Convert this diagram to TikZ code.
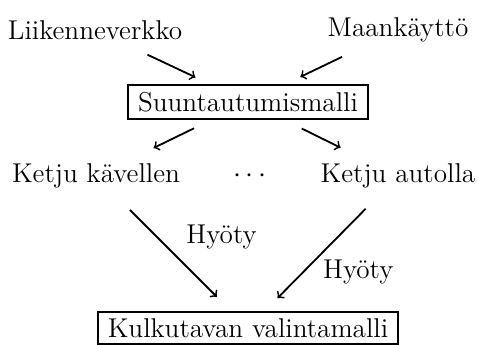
\documentclass[tikz,border=0pt]{standalone}
\begin{document}
\begin{tikzpicture}[
        x=0.5pt, y=-0.5pt,
        every node/.style={font=\fontsize{13.6}{16}\selectfont},
        malli/.style={draw, line width=0.9pt, minimum height=17pt},
        nuoli/.style={->, line width=0.9pt}
    ]
    \useasboundingbox (0,0) rectangle (478,344);
    \node (liikenne) at (95,30) {Liikenneverkko};
    \node (maankaytto) at (398,30) {Maankäyttö};
    \node[malli, minimum width=120pt] (suunta) at (248,102) {Suuntautumismalli};
    \node (kavellen) at (96,176) {Ketju kävellen};
    \node (pisteet) at (250,176) {$\cdots$};
    \node (autolla) at (398,176) {Ketju autolla};
    \node[malli, minimum width=150pt, minimum height=15.5pt] (kulkutapa) at (248,328) {Kulkutavan valintamalli};

    \draw[nuoli, shorten <=29pt, shorten >=29pt] (liikenne.center) -- (suunta.center);
    \draw[nuoli, shorten <=31pt, shorten >=29pt] (maankaytto.center) -- (suunta.center);
    \draw[nuoli, shorten <=30pt, shorten >=32pt] (suunta.center) -- (kavellen.center);
    \draw[nuoli, shorten <=30pt, shorten >=32pt] (suunta.center) -- (autolla.center);
    \draw[nuoli, shorten <=24pt, shorten >=22pt] (kavellen.center) -- (kulkutapa.center)
        node[pos=0.4, anchor=west, xshift=11pt] {Hyöty};
    \draw[nuoli, shorten <=23pt, shorten >=21pt] (autolla.center) -- (kulkutapa.center)
        node[pos=0.63, anchor=west, xshift=6pt] {Hyöty};
\end{tikzpicture}
\end{document}
